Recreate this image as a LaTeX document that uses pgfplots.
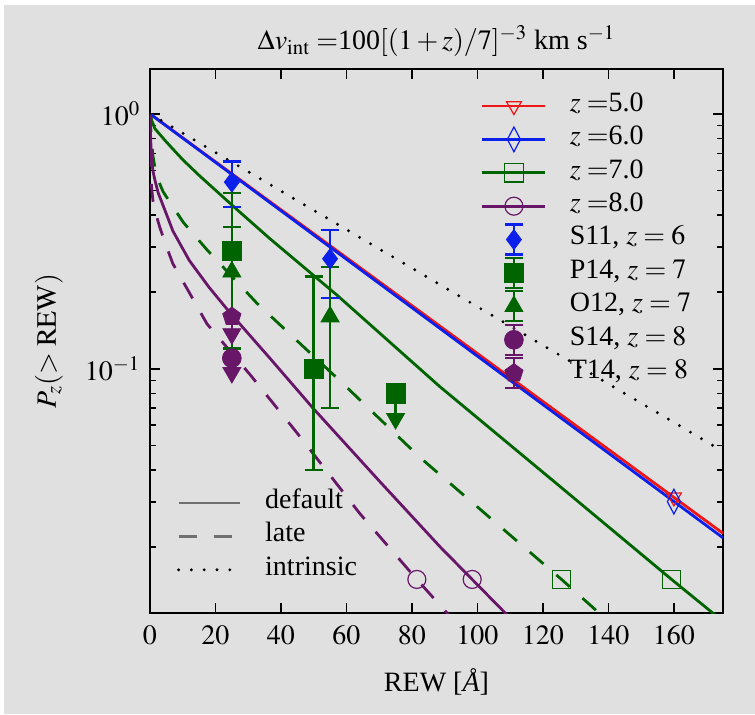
\documentclass[border=0pt]{standalone}
\usepackage{mathptmx}
\usepackage{fontspec}
\setmainfont{Liberation Serif}
\usepackage{pgfplots}
\pgfplotsset{compat=1.18}

\definecolor{bggray}{RGB}{224,224,224}
\definecolor{cRed}{RGB}{238,22,22}
\definecolor{cBlue}{RGB}{12,32,235}
\definecolor{cGreen}{RGB}{0,100,0}
\definecolor{cPurple}{RGB}{104,22,104}
\definecolor{cGray}{RGB}{112,112,112}

\newcommand{\fs}{\fontsize{14}{16.8}\selectfont}

% legend images: a line with one open mark, or a mark with a capped bar
\pgfplotsset{
  lineleg/.style={legend image code/.code={%
      \path[draw=none,fill=none] (0pt,-8.35pt) rectangle (31.5pt,8.35pt);
      \draw[##1,mark=none] (0pt,0pt) -- (31.5pt,0pt);
      \draw[##1,only marks] plot coordinates {(15.75pt,0pt)};}},
  errleg/.style={legend image code/.code={%
      \path[draw=none,fill=none] (0pt,-8.35pt) rectangle (31.5pt,8.35pt);
      \draw[##1,mark=none,line width=1.3pt] (15.75pt,-7.5pt) -- (15.75pt,7.5pt);
      \draw[##1,mark=none,line width=1.1pt] (11.25pt,-7.5pt) -- (20.25pt,-7.5pt)
            (11.25pt,7.5pt) -- (20.25pt,7.5pt);
      \draw[##1,only marks] plot coordinates {(15.75pt,0pt)};}},
  styleleg/.style={legend image code/.code={%
      \path[draw=none,fill=none] (0pt,-8.35pt) rectangle (30.5pt,8.35pt);
      \draw[##1] (0pt,0pt) -- (30.5pt,0pt);}},
  obs/.style={only marks, forget plot,
      error bars/.cd, y dir=both, y explicit,
      error bar style={line width=1.3pt},
      error mark=-,
      error mark options={rotate=90, line width=1.1pt, mark size=4.5pt}},
  ulim/.style={only marks, forget plot,
      error bars/.cd, y dir=minus, y explicit,
      error bar style={line width=1.3pt},
      error mark=none},
  arrowhead/.style={only marks, forget plot, mark=triangle*,
      mark options={rotate=180, mark size=5.2pt, line width=0.4pt}},
}

\begin{document}
\begin{tikzpicture}
\fill[white] (-75pt,-50.5pt) rectangle (302.5pt,306.5pt);
\fill[bggray] (-73pt,-50.5pt) rectangle (302.5pt,304pt);

\begin{axis}[
  at={(0pt,0pt)}, anchor=south west,
  scale only axis, width=286.5pt, height=272pt,
  xmin=0, xmax=175, ymin=0.011, ymax=1.5, ymode=log,
  axis line style={line width=1pt},
  xtick={0,20,40,60,80,100,120,140,160},
  ytick={0.1,1},
  minor ytick={0.02,0.03,0.04,0.05,0.06,0.07,0.08,0.09,0.2,0.3,0.4,0.5,0.6,0.7,0.8,0.9},
  tick align=inside,
  major tick length=5pt, minor tick length=3pt,
  every tick/.style={black, line width=0.8pt},
  tick label style={font=\fs},
  xticklabel style={yshift=-2.8pt},
  yticklabel style={xshift=-1.3pt},
  label style={font=\fs},
  xlabel={REW [\textit{\AA}]},
  xlabel style={yshift=-5pt},
  ylabel={$P_z(>\mathrm{REW})$},
  ylabel style={at={(axis description cs:-0.1763,0.5)}, anchor=center},
  title={$\Delta v_{\mathrm{int}}=$100$[(1+z)/7]^{-3}$ km s$^{-1}$},
  title style={font=\fs, yshift=-3.5pt},
  legend style={draw=none, fill=none, at={(0.5777,0.9627)}, anchor=north west,
    inner sep=0pt, outer sep=0pt, row sep=0pt, column sep=11.5pt,
    nodes={inner sep=0pt, text height=11pt, text depth=5.7pt, font=\fs}},
  legend cell align=left,
]

% legend entries
\addlegendimage{lineleg, cRed, line width=1.4pt, mark=triangle,
  mark options={rotate=180, mark size=4.3pt, line width=0.6pt}}
\addlegendentry{$z=$5.0}
\addlegendimage{lineleg, cBlue, line width=1.4pt, mark=diamond,
  mark options={xscale=0.7, mark size=6.2pt, line width=0.6pt}}
\addlegendentry{$z=$6.0}
\addlegendimage{lineleg, cGreen, line width=1.4pt, mark=square,
  mark options={mark size=4.6pt, line width=0.6pt}}
\addlegendentry{$z=$7.0}
\addlegendimage{lineleg, cPurple, line width=1.4pt, mark=o,
  mark options={mark size=4.5pt, line width=0.6pt}}
\addlegendentry{$z=$8.0}
\addlegendimage{errleg, cBlue, mark=diamond*, mark size=5pt}
\addlegendentry{S11, $z=6$}
\addlegendimage{errleg, cGreen, mark=square*, mark size=4.8pt}
\addlegendentry{P14, $z=7$}
\addlegendimage{errleg, cGreen, mark=triangle*, mark size=5.2pt}
\addlegendentry{O12, $z=7$}
\addlegendimage{errleg, cPurple, mark=*, mark size=4.7pt}
\addlegendentry{S14, $z=8$}
\addlegendimage{errleg, cPurple, mark=pentagon*, mark size=4.8pt}
\addlegendentry{T14, $z=8$}

% z = 5 and z = 6 (the late curves coincide with the default ones)
\addplot[cRed, line width=1.4pt, forget plot] coordinates {(0,1) (175,0.0226)};
\addplot[cBlue, line width=1.4pt, forget plot] coordinates {(0,1) (175,0.0217)};

% z = 7, default
\addplot[cGreen, line width=1.4pt, forget plot] coordinates {
  (0,1) (0.5,0.944) (1.5,0.875) (5,0.776) (10,0.661) (15.3,0.569)
  (26.5,0.422) (36.6,0.324) (57,0.195) (88.5,0.0851) (125,0.0347)
  (159.3,0.0149) (175,0.0102)};
% z = 7, late
\addplot[cGreen, line width=1.4pt, dash pattern=on 9pt off 8.5pt, forget plot] coordinates {
  (0,1) (0.2,0.891) (0.5,0.776) (0.9,0.684) (1.5,0.617) (2.2,0.569)
  (3,0.531) (4,0.495) (7,0.432) (10.2,0.375) (17.5,0.292) (32.6,0.181)
  (58,0.0897) (82.5,0.0448) (125.7,0.0149) (140,0.0102)};
% z = 8, default
\addplot[cPurple, line width=1.4pt, forget plot] coordinates {
  (0,1) (0.1,0.871) (0.3,0.741) (0.6,0.646) (0.9,0.597) (1.5,0.550)
  (2.5,0.490) (4,0.437) (7,0.347) (12,0.266) (18,0.209) (24.4,0.166)
  (36.6,0.110) (49.8,0.0700) (70,0.0363) (88.6,0.0200) (98.4,0.0149)
  (111,0.0102)};
% z = 8, late
\addplot[cPurple, line width=1.4pt, dash pattern=on 9pt off 8.5pt, forget plot] coordinates {
  (0,1) (0.05,0.832) (0.15,0.676) (0.3,0.575) (0.5,0.513) (0.9,0.456)
  (1.5,0.417) (3.05,0.357) (5,0.302) (7,0.258) (12.2,0.197) (17.4,0.150)
  (30.5,0.0950) (44.9,0.0560) (64.1,0.0270) (81.5,0.0149) (93,0.0102)};
% intrinsic
\addplot[black, line width=1.6pt, line cap=round, dash pattern=on 0pt off 6.4pt, forget plot]
  coordinates {(0,1) (175,0.0474)};

% open markers on the model curves
\addplot[cRed, only marks, mark=triangle, forget plot,
  mark options={rotate=180, mark size=4.3pt, line width=0.6pt}] coordinates {(160,0.0313)};
\addplot[cBlue, only marks, mark=diamond, forget plot,
  mark options={xscale=0.7, mark size=6.2pt, line width=0.6pt}] coordinates {(160,0.0301)};
\addplot[cGreen, only marks, mark=square, forget plot,
  mark options={mark size=4.6pt, line width=0.6pt}] coordinates {(125.7,0.0149) (159.3,0.0149)};
\addplot[cPurple, only marks, mark=o, forget plot,
  mark options={mark size=4.5pt, line width=0.6pt}] coordinates {(81.5,0.0149) (98.4,0.0149)};

% observations
\addplot[cBlue, mark=diamond*, mark size=5pt, obs] coordinates {
  (25,0.54) +- (0,0.11)
  (55,0.27) +- (0,0.08)};
\addplot[cGreen, mark=square*, mark size=4.8pt, obs] coordinates {
  (25,0.29) += (0,0.20) -= (0,0.17)
  (50,0.10) += (0,0.13) -= (0,0.06)};
% P14 upper limit
\addplot[cGreen, mark=square*, mark size=4.8pt, ulim] coordinates {
  (75,0.08) -= (0,0.0163)};
\addplot[cGreen, arrowhead] coordinates {(75,0.0637)};
\addplot[cGreen, mark=triangle*, mark size=5.2pt, obs] coordinates {
  (25,0.24) += (0,0.12) -= (0,0.12)
  (55,0.16) += (0,0.09) -= (0,0.09)};
% S14 and T14 upper limits
\addplot[cPurple, mark=*, mark size=4.7pt, ulim] coordinates {
  (25,0.11) -= (0,0.0135)};
\addplot[cPurple, arrowhead] coordinates {(25,0.0965)};
\addplot[cPurple, mark=pentagon*, mark size=4.8pt, ulim] coordinates {
  (25,0.16) -= (0,0.023)};
\addplot[cPurple, arrowhead] coordinates {(25,0.137)};
\end{axis}

% line-style key
\begin{axis}[
  at={(0pt,0pt)}, anchor=south west,
  scale only axis, width=286.5pt, height=272pt,
  hide axis, xmin=0, xmax=1, ymin=0, ymax=1,
  legend style={draw=none, fill=none, at={(0.0471,0.2329)}, anchor=north west,
    inner sep=0pt, outer sep=0pt, row sep=0pt, column sep=12pt,
    nodes={inner sep=0pt, text height=11pt, text depth=5.7pt, font=\fs}},
  legend cell align=left,
]
\addlegendimage{styleleg, cGray, line width=1.4pt}
\addlegendentry{default}
\addlegendimage{styleleg, cGray, line width=1.4pt, dash pattern=on 9pt off 8.5pt}
\addlegendentry{late}
\addlegendimage{styleleg, black, line width=1.6pt, line cap=round, dash pattern=on 0pt off 6.4pt}
\addlegendentry{intrinsic}
\end{axis}

\pgfresetboundingbox
\path (-75pt,-50.5pt) rectangle (302.5pt,306.5pt);
\end{tikzpicture}
\end{document}
